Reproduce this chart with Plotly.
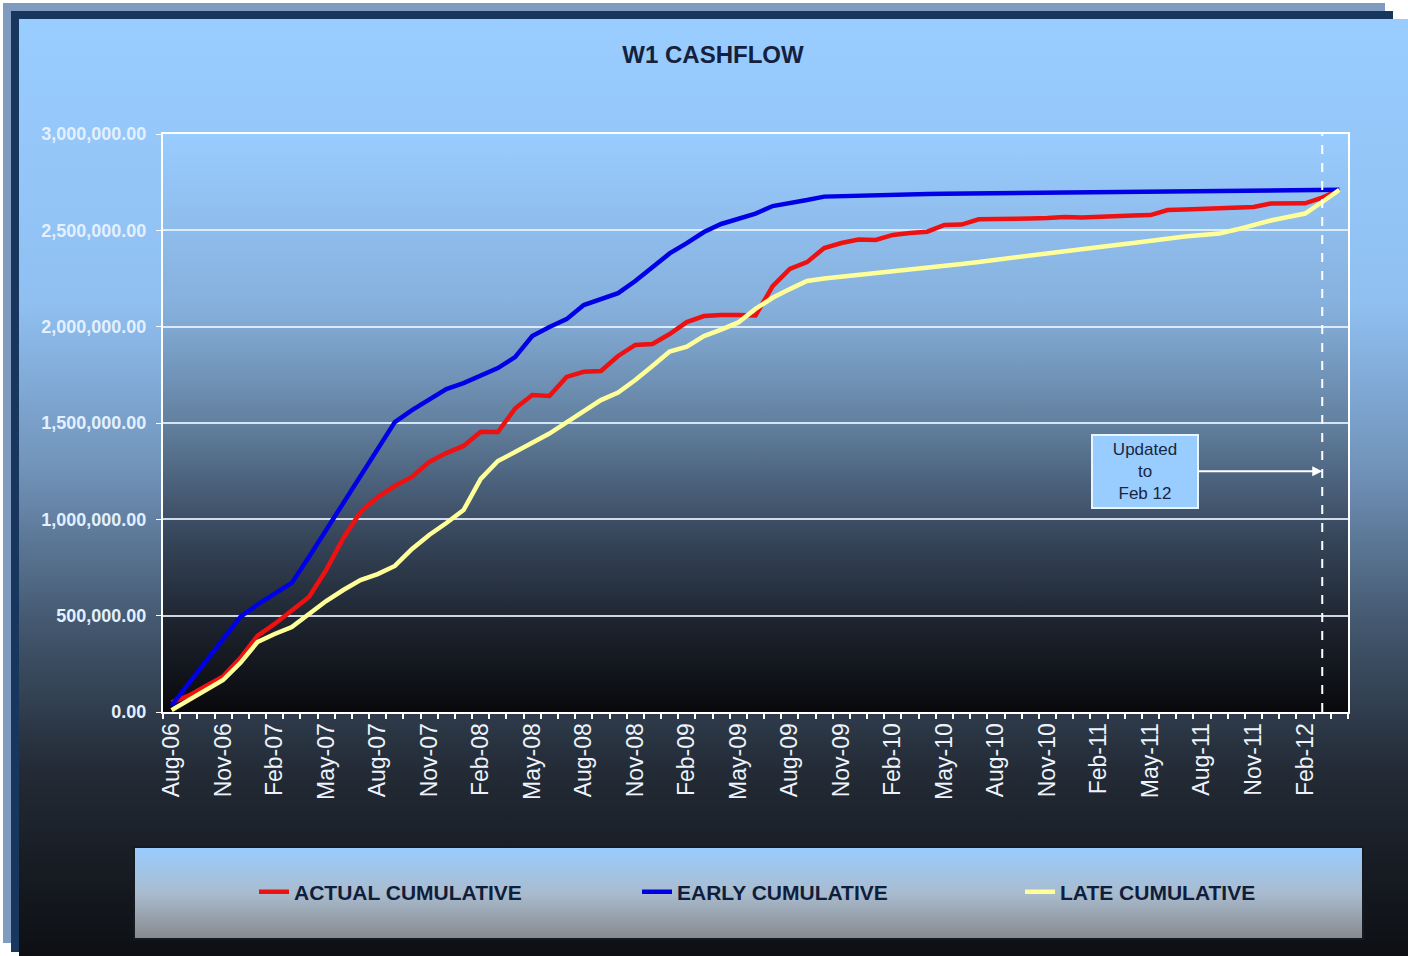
import base64
import plotly.graph_objects as go

# month categories (Aug-06 .. Apr-12)
months = [
    "Aug-06", "Sep-06", "Oct-06", "Nov-06", "Dec-06", "Jan-07", "Feb-07", "Mar-07", "Apr-07", "May-07",
    "Jun-07", "Jul-07", "Aug-07", "Sep-07", "Oct-07", "Nov-07", "Dec-07", "Jan-08", "Feb-08", "Mar-08",
    "Apr-08", "May-08", "Jun-08", "Jul-08", "Aug-08", "Sep-08", "Oct-08", "Nov-08", "Dec-08", "Jan-09",
    "Feb-09", "Mar-09", "Apr-09", "May-09", "Jun-09", "Jul-09", "Aug-09", "Sep-09", "Oct-09", "Nov-09",
    "Dec-09", "Jan-10", "Feb-10", "Mar-10", "Apr-10", "May-10", "Jun-10", "Jul-10", "Aug-10", "Sep-10",
    "Oct-10", "Nov-10", "Dec-10", "Jan-11", "Feb-11", "Mar-11", "Apr-11", "May-11", "Jun-11", "Jul-11",
    "Aug-11", "Sep-11", "Oct-11", "Nov-11", "Dec-11", "Jan-12", "Feb-12", "Mar-12", "Apr-12",
]

actual_cum = [
    50000, 85000, 135000, 185000, 280000, 395000, 457000, 524000, 597000, 737000,
    903000, 1038000, 1116000, 1173000, 1220000, 1298000, 1344000, 1381000, 1455000, 1453000,
    1575000, 1645000, 1640000, 1739000, 1766000, 1770000, 1848000, 1905000, 1910000, 1962000,
    2024000, 2055000, 2061000, 2061000, 2058000, 2210000, 2300000, 2335000, 2408000, 2434000,
    2452000, 2450000, 2476000, 2486000, 2493000, 2528000, 2530000, 2557000, 2557000, 2557000,
    2561000, 2564000, 2569000, 2567000, 2572000, 2574000, 2577000, 2579000, 2605000, 2608000,
    2611000, 2613000, 2616000, 2621000, 2639000, 2640000, 2640000, 2670000, 2710000,
]

early_cum = [
    35000, 150000, 270000, 384000, 493000, 557000, 612000, 670000, 804000, 945000,
    1085000, 1225000, 1365000, 1505000, 1567000, 1619000, 1676000, 1707000, 1749000, 1785000,
    1842000, 1951000, 1998000, 2039000, 2112000, 2143000, 2174000, 2237000, 2310000, 2380000,
    2434000, 2491000, 2533000, 2561000, 2587000, 2626000, 2640000, 2657000, 2675000, 2678000,
    2681000, 2684000, 2686000, 2688000, 2689000, 2690000, 2691000, 2692000, 2693000, 2694000,
    2695000, 2696000, 2697000, 2697000, 2698000, 2699000, 2700000, 2701000, 2702000, 2703000,
    2704000, 2705000, 2706000, 2706000, 2707000, 2707000, 2708000, 2709000, 2710000,
]

late_cum = [
    10000, 62000, 114000, 166000, 254000, 363000, 405000, 441000, 509000, 576000,
    633000, 685000, 716000, 758000, 846000, 919000, 981000, 1048000, 1210000, 1303000,
    1349000, 1394000, 1445000, 1503000, 1560000, 1619000, 1658000, 1723000, 1796000, 1871000,
    1896000, 1951000, 1985000, 2022000, 2092000, 2150000, 2195000, 2237000, 2250000, 2259000,
    2268000, 2276000, 2284000, 2294000, 2303000, 2315000, 2325000, 2336000, 2347000, 2361000,
    2372000, 2385000, 2393000, 2403000, 2413000, 2424000, 2434000, 2447000, 2457000, 2468000,
    2476000, 2483000, 2504000, 2528000, 2551000, 2569000, 2587000, 2647000, 2710000,
]

W, H = 1408, 956
L, R, T, B = 163, 60, 134, 244
pw, ph = W - L - R, H - T - B

# background artwork: drop-shadow frame, panel gradient, plot gradient, legend box
bg_svg = f"""<svg xmlns="http://www.w3.org/2000/svg" width="{W}" height="{H}" viewBox="0 0 {W} {H}" preserveAspectRatio="none">
<defs>
<linearGradient id="panel" x1="0" y1="0" x2="0" y2="1">
<stop offset="0" stop-color="#99ccff"/><stop offset="0.3" stop-color="#90c0f2"/>
<stop offset="0.48" stop-color="#7193b9"/><stop offset="0.65" stop-color="#42566d"/>
<stop offset="0.8" stop-color="#232b36"/><stop offset="1" stop-color="#0d0f13"/>
</linearGradient>
<linearGradient id="plot" x1="0" y1="0" x2="0" y2="1">
<stop offset="0" stop-color="#99ccff"/><stop offset="0.3" stop-color="#86b0dc"/>
<stop offset="0.5" stop-color="#62809f"/><stop offset="0.7" stop-color="#36455a"/>
<stop offset="0.86" stop-color="#1b212b"/><stop offset="1" stop-color="#09090c"/>
</linearGradient>
<linearGradient id="leg" x1="0" y1="0" x2="0" y2="1">
<stop offset="0" stop-color="#99ccff"/><stop offset="0.5" stop-color="#a9bccf"/>
<stop offset="1" stop-color="#888a8e"/>
</linearGradient>
</defs>
<rect x="0" y="0" width="{W}" height="{H}" fill="#ffffff"/>
<rect x="3" y="3" width="1382" height="940" fill="#7f9cc0"/>
<rect x="11" y="11" width="1382" height="941" fill="#17375e"/>
<rect x="19" y="19" width="{W - 19}" height="{H - 19}" fill="url(#panel)"/>
<rect x="{L}" y="{T}" width="{pw}" height="{ph}" fill="url(#plot)"/>
<rect x="133" y="846" width="1231" height="94" fill="#141a22"/>
<rect x="135" y="848" width="1227" height="90" fill="url(#leg)"/>
</svg>"""
bg_uri = "data:image/svg+xml;base64," + base64.b64encode(bg_svg.encode()).decode()

fig = go.Figure()
series = [
    ("ACTUAL CUMULATIVE", actual_cum, "#ee1111"),
    ("EARLY CUMULATIVE", early_cum, "#0000e6"),
    ("LATE CUMULATIVE", late_cum, "#ffff99"),
]
for name, vals, col in series:
    fig.add_trace(go.Scatter(x=months, y=vals, mode="lines", name=name,
                             line=dict(color=col, width=4.5)))

fig.add_layout_image(dict(
    source=bg_uri, xref="paper", yref="paper",
    x=-L / pw, y=(ph + T) / ph, sizex=W / pw, sizey=H / ph,
    xanchor="left", yanchor="top", sizing="stretch", layer="below",
))

# "updated to" marker
fig.add_shape(type="line", xref="x", yref="paper", x0="Mar-12", x1="Mar-12", y0=0, y1=1,
              line=dict(color="white", width=2, dash="dash"))
fig.add_annotation(x="Mar-12", y=1250000, xref="x", yref="y",
                   text="Updated<br>to<br>Feb 12", showarrow=True, ax=-177, ay=0,
                   arrowhead=2, arrowsize=1, arrowwidth=2, arrowcolor="white", standoff=0,
                   bgcolor="#99ccff", bordercolor="#e8f4ff", borderwidth=2, borderpad=4,
                   width=96, font=dict(family="Liberation Sans, Arial", size=17, color="#1a2640"))

tick_text = [m if i % 3 == 0 else "" for i, m in enumerate(months)]

fig.update_layout(
    width=W, height=H,
    margin=dict(l=L, r=R, t=T, b=B, autoexpand=False),
    paper_bgcolor="white", plot_bgcolor="rgba(0,0,0,0)",
    title=dict(text="W1 CASHFLOW", x=713 / W, xref="container", xanchor="center",
               y=1 - 55 / H, yref="container", yanchor="middle",
               font=dict(family="Liberation Sans, Arial", size=24, color="#14213d", weight="bold")),
    showlegend=True,
    legend=dict(orientation="h", x=(254 - L) / pw, xanchor="left", y=(T + ph - 892) / ph,
                yanchor="middle", bgcolor="rgba(0,0,0,0)", entrywidth=338, entrywidthmode="pixels",
                font=dict(family="Liberation Sans, Arial", size=21, color="#0f1e3c", weight="bold")),
    xaxis=dict(type="category", tickmode="array", tickvals=months, ticktext=tick_text,
               tickson="boundaries", ticks="outside", ticklen=5, tickcolor="white", tickwidth=1.5,
               tickangle=-90, showgrid=False, showline=True, linecolor="white", linewidth=2,
               mirror=True, automargin=False, range=[-0.5, len(months) - 0.5],
               tickfont=dict(family="Liberation Sans, Arial", size=23, color="#eef3fb")),
    yaxis=dict(range=[0, 3000000], dtick=500000, tickformat=",.2f", ticks="outside",
               ticklen=5, tickcolor="white", showgrid=True, gridcolor="rgba(235,245,255,0.85)",
               gridwidth=1.5, showline=True, linecolor="white", linewidth=2, mirror=True,
               zeroline=False, automargin=False, ticklabelstandoff=6,
               tickfont=dict(family="Liberation Sans, Arial", size=18, color="#e3f0ff", weight="bold")),
)

fig.write_html("out.html", config={"displayModeBar": False},
               post_script="document.body.style.margin='0';")
